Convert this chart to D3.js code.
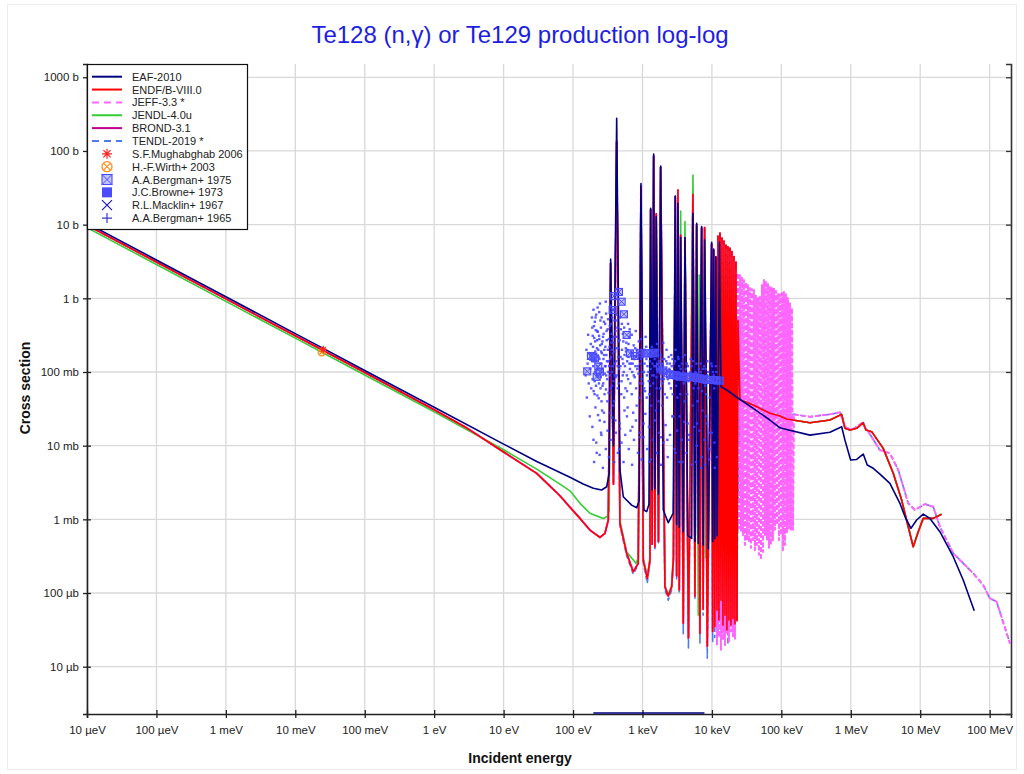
<!DOCTYPE html>
<html><head><meta charset="utf-8">
<script src="https://cdn.jsdelivr.net/npm/d3@7"></script>
<style>body{margin:0;background:#fff}svg{display:block}text{font-family:"Liberation Sans",Arial,sans-serif}</style>
</head><body><svg id="c" width="1024" height="774"></svg>
<script>
// ---------------- DATA (energy in eV, cross section in barns) ----------------
const chartTitle = "Te128 (n,\u03b3) or Te129 production log-log";
const xTickVals = [1e-5,1e-4,1e-3,1e-2,1e-1,1,10,100,1e3,1e4,1e5,1e6,1e7,1e8];
const xTickLabels = ["10 \u00b5eV","100 \u00b5eV","1 meV","10 meV","100 meV","1 eV","10 eV","100 eV","1 keV","10 keV","100 keV","1 MeV","10 MeV","100 MeV"];
const yTickVals = [1e-5,1e-4,1e-3,1e-2,1e-1,1,10,100,1000];
const yTickLabels = ["10 \u00b5b","100 \u00b5b","1 mb","10 mb","100 mb","1 b","10 b","100 b","1000 b"];

const eafThermal = [[1e-5,10.5],[1e-4,3.32],[1e-3,1.05],[1e-2,0.332],[0.0253,0.209],[0.1,0.105],[1,0.0332],[10,0.0105],[30,0.0061],[90.3,0.00372],[140,0.00302],[196,0.00264],[258,0.0025],[305,0.00277],[332,0.0042]];
const eafResolved = [[348,3.4],[382,0.01],[425,277],[474,0.0047],[529,0.00203],[699,0.00156],[825,0.00144],[899,0.0018],[951,36],[1050,0.00134],[1149,0.00127],[1240,0.0016],[1312,16.7],[1378,0.0025],[1449,91],[1512,0.0026],[1578,12.8],[1699,0.0022],[1827,62.5],[1992,0.00134],[2351,0.0009],[2775,0.00121],[2966,24.5],[3106,0.00085],[3243,19.5],[3386,0.00078],[3548,6.7],[3868,0.00068],[4091,6.7],[4500,0.0006],[5108,0.00055],[5335,14.3],[5700,0.0005],[6030,10.4],[6359,0.00047],[7115,9.4],[7477,0.00045],[7856,6.2],[8857,0.0004],[9910,5.75],[10250,0.0005],[10600,4.67],[10990,0.00055],[11400,3.67],[11900,0.0006],[12840,5.8]];
const eafHigh = [[13500,0.063],[16300,0.057],[23950,0.044],[39400,0.032],[68500,0.0223],[95400,0.0175],[119200,0.0166],[258000,0.0139],[501000,0.0152],[739000,0.0181],[824000,0.0119],[995000,0.0064],[1215000,0.0065],[1512000,0.0077],[1726000,0.00546],[2106000,0.00493],[2630000,0.00412],[3660000,0.00308],[5100000,0.00165],[6030000,0.00109],[7350000,0.000755],[8880000,0.00098],[11050000,0.00118],[13800000,0.00103],[19200000,0.00068],[29900000,0.000311],[41600000,0.00015],[60000000,0.0000575]];
const eafZeroRangeE = [196, 7800];

const endfThermal = [[1e-5,9.83],[1e-4,3.11],[1e-3,0.983],[1e-2,0.311],[0.0253,0.1955],[0.1,0.0983],[1,0.0307],[3,0.0172],[10,0.0082],[30,0.0042],[64.8,0.00209],[90.3,0.00146],[126,0.00103],[175,0.000716],[244,0.00057],[288,0.000645],[322,0.00098]];
const endfResolved = [[348,3.0],[382,0.003],[425,134],[474,0.000883],[592,0.000346],[737,0.000195],[869,0.000253],[951,33],[1026,0.00028],[1172,0.000158],[1282,0.00028],[1312,16],[1378,0.00046],[1449,85],[1512,0.00042],[1578,14],[1699,0.0005],[1827,60],[2107,0.000122],[2351,0.000091],[2632,0.000122],[2793,0.0003],[2966,24],[3106,0.00017],[3243,29.5],[3386,0.00011],[3548,7.2],[3868,0.000039],[4091,6.7],[4594,0.0000245],[5335,25.8],[5700,0.00009],[6030,10],[6725,0.0000285],[7115,9.0],[7477,0.00006],[7856,9.1],[8570,0.000019],[9910,5.5],[10250,0.00003],[10600,4.5],[10990,0.000035],[11434,3.6]];
const endfUnresolved = [[11819,0.0000586],[12217,7.0],[12630,0.0000429],[13055,7.7],[13495,0.00008],[13951,6.6],[14420,0.0000367],[14907,6.0],[15409,0.00005],[15929,5.3],[16466,0.0000314],[17021,5.0],[17595,0.000043],[18188,4.8],[18801,0.0000367],[19435,4.3],[20091,0.000045],[20768,3.7],[21468,0.000038],[22192,3.1],[22940,0.000042],[23714,0.5]];
const endfHigh = [[25340,0.042],[39400,0.0356],[68500,0.0275],[95400,0.0252],[119200,0.023],[258000,0.0205],[501000,0.0223],[739000,0.0266],[824000,0.0172],[973000,0.0163],[1215000,0.0172],[1512000,0.0205],[1652000,0.0163],[2000000,0.0155],[2930000,0.0092],[4090000,0.00422],[5400000,0.00183],[6720000,0.000795],[7930000,0.000425],[9370000,0.00068],[11050000,0.00103],[15400000,0.00103],[20300000,0.00117]];

const jendlThermal = [[1e-5,9.1],[1e-4,2.88],[1e-3,0.91],[1e-2,0.288],[0.0253,0.181],[0.1,0.091],[1,0.0288],[10,0.0088],[30,0.0048],[64.8,0.003],[90.3,0.00244],[126,0.00165],[175,0.00121],[272,0.00103],[311,0.00109],[332,0.00134]];
const jendlResolved = [[348,3.0],[382,0.004],[425,130],[474,0.00095],[592,0.00036],[805,0.000253],[869,0.0003],[951,33],[1026,0.0003],[1172,0.00017],[1282,0.0003],[1312,16],[1378,0.00048],[1449,85],[1512,0.00044],[1578,13],[1699,0.00052],[1827,60],[2107,0.000125],[2351,0.000095],[2632,0.000125],[2793,0.0003],[2966,24],[3106,0.00018],[3243,29],[3386,0.00012],[3548,15.3],[3868,0.00005],[4091,11],[4594,0.000041],[5335,47],[5700,0.0001],[6030,10],[6359,0.00005],[6573,2.07],[6725,0.00004],[7115,9],[7477,0.00007],[7856,9],[8100,0.0003],[8400,0.092],[10000,0.085],[13000,0.07]];

const jeffUnresolved = [[11819,0.00002],[12217,6],[12630,0.000025],[13055,6.5],[13495,0.000017],[13951,5.8],[14420,0.000023],[14907,5.2],[15409,0.0000196],[15929,4.8],[16466,0.000028],[17021,4.5],[17595,0.000022],[18188,4.2],[18801,0.00003],[19435,3.8],[20091,0.000026],[20768,3.2],[21468,0.000024],[22192,2.5],
[22940,0.00089],[23714,2.21],[24513,0.00075],[25340,2.07],[26194,0.0007],[27077,1.9],[27990,0.00061],[28934,1.77],[29910,0.00045],[30918,1.66],[31961,0.00052],[33038,1.52],[34152,0.00049],[35304,1.38],[36494,0.00041],[37725,1.34],[38997,0.00052],[40312,1.3],[41671,0.00038],[43076,1.11],[44529,0.00045],[46030,1.01],[47582,0.00033],[49186,1.05],[50845,0.00028],[52559,1.52],[54331,0.00036],[56163,1.77],[58057,0.00061],[60014,1.72],[62038,0.00052],[64130,1.61],[66292,0.00041],[68527,1.47],[70838,0.00045],[73226,1.38],[75695,0.00052],[78247,1.38],[80885,0.00072],[83613,1.26],[86432,0.00084],[89346,1.18],[92358,0.00052],[95472,1.14],[98691,0.00061],[102000,1.18],[105440,0.00038],[109000,1.22],[112670,0.00045],[116470,1.14],[120400,0.00067],[124460,1.01],[128650,0.00075],[132990,0.86],[137470,0.00072],[142110,0.74],[146900,0.00072]];
const jeffTendlHigh = [[151900,0.0266],[258000,0.0247],[501000,0.0266],[698000,0.0284],[824000,0.0181],[1029000,0.0163],[1433000,0.0201],[1784000,0.0155],[2630000,0.0087],[3660000,0.00787],[4830000,0.00467],[6720000,0.00165],[8390000,0.00134],[11700000,0.00161],[15400000,0.00148],[19200000,0.000795],[29900000,0.000346],[58000000,0.000185],[80800000,0.000128],[100900000,0.0000847],[126000000,0.0000762],[196000000,0.0000207]];

const tendlResolved = [[348,3.0],[382,0.003],[425,130],[474,0.0008],[592,0.00032],[737,0.00018],[869,0.00024],[951,33],[1026,0.00026],[1172,0.000135],[1282,0.00027],[1312,16],[1378,0.00044],[1449,85],[1512,0.0004],[1578,13.5],[1699,0.00048],[1827,60],[2107,0.00011],[2351,0.00008],[2632,0.00011],[2793,0.00028],[2966,24],[3106,0.00015],[3243,29],[3386,0.0001],[3548,7],[3868,0.000028],[4091,6.5],[4594,0.000018],[5335,25],[5700,0.00008],[6030,10],[6725,0.000021],[7115,9],[7477,0.00005],[7856,9],[8570,0.000013],[9910,5.5],[10250,0.000022],[10600,4.5],[10990,0.000025],[11434,3.6],[12217,0.00003],[13055,7],[14420,0.000025],[15929,5],[17021,0.00002],[18188,4.5],[20091,0.000026],[21468,3],[23000,0.0002],[25340,0.045],[39400,0.037],[68500,0.029],[119200,0.0262]];

const mughabghab2006 = [[0.0253,0.203]];
const wirth2003 = [[0.024,0.185]];
const bergman1975 = [[160,0.102],[181,0.165],[196,0.161],[207,0.153],[219,0.086],[231,0.118],[244,0.101],[372,0.694],[388,1.07],[458,1.22],[501,0.90],[541,0.607],[592,0.318],[660,0.179],[779,0.165],[920,0.179],[1122,0.179],[1211,0.179],[1430,0.183],[1512,0.179],[1785,0.118],[2000,0.105],[2229,0.096],[2500,0.093],[2775,0.091],[3100,0.089],[3465,0.0863],[3900,0.0863],[4328,0.0863],[4800,0.085],[5385,0.0863],[6000,0.083],[6725,0.082],[7500,0.08],[8400,0.0778],[9400,0.078],[10450,0.0778],[11700,0.077],[13060,0.0762]];
const browne1973 = [[192,0.31],[195,0.12],[198,0.055],[200,0.42],[203,0.18],[205,0.075],[208,0.26],[210,0.033],[213,0.14],[215,0.6],[218,0.09],[221,0.21],[224,0.048],[227,0.35],[230,0.11],[233,0.16],[236,0.07],[239,0.28],[242,0.022],[245,0.13],[248,0.5],[251,0.085],[254,0.19],[257,0.04],[260,0.24],[263,0.1],[266,0.065],[270,0.3],[274,0.15],[278,0.028],[282,0.2],[286,0.095],[290,0.45],[294,0.12],[298,0.058],[302,0.17],[306,0.27],[310,0.08],[315,0.38],[320,0.14],[325,0.052],
[335,0.22],[340,0.09],[345,0.8],[352,0.16],[358,0.33],[365,0.065],[372,0.12],[380,0.25],[388,0.04],[395,0.5],[403,0.19],[411,0.085],[420,0.14],[430,0.3],[440,0.06],[450,0.21],[462,0.11],[475,0.017],[488,0.38],[500,0.075],[515,0.15],[530,0.26],[545,0.045],[560,0.12],[578,0.19],[595,0.09],[612,0.033],[630,0.24],[650,0.13],[670,0.07],[690,0.17],[712,0.1],[735,0.028],[760,0.15],[785,0.21],[810,0.06],[840,0.11],[870,0.18],[900,0.045],[935,0.13],[970,0.08],
[1010,0.16],[1050,0.1],[1090,0.055],[1130,0.22],[1180,0.12],[1230,0.075],[1280,0.14],[1340,0.035],[1400,0.18],[1460,0.09],[1530,0.12],[1600,0.06],[1680,0.2],[1760,0.1],[1850,0.013],[1940,0.15],[2040,0.08],[2150,0.11],[2260,0.045],[2380,0.16],[2500,0.09],[2640,0.12],[2790,0.025],
[2950,0.14],[3120,0.08],[3300,0.1],[3500,0.05],[3700,0.13],[3950,0.07],[4200,0.11],[4480,0.02],[4780,0.09],[5100,0.12],[5450,0.06],[5800,0.1],[6200,0.04],[6600,0.085],[7050,0.005],[7500,0.11],[8000,0.065],[8500,0.09],[9100,0.0065],[9700,0.08],[10400,0.1],[11200,0.07],[12000,0.085],
[152,0.09],[156,0.2],[158,0.045],[162,0.13],[165,0.32],[168,0.07],[171,0.18],[174,0.025],[177,0.11],[180,0.24],[183,0.06],[186,0.15],[189,0.4],[191,0.08],[194,0.22],[197,0.012],[199,0.14],[202,0.29],[204,0.05],[207,0.1],[209,0.19],[212,0.37],[214,0.065],[217,0.16],[219,0.008],[222,0.27],[225,0.12],[228,0.085],[231,0.2],[234,0.044],[237,0.31],[240,0.15],[243,0.095],[246,0.23],[249,0.06],[252,0.4],[255,0.13],[259,0.18],[262,0.03],[265,0.26],[268,0.11],[272,0.07],[276,0.33],[280,0.17],[284,0.05],[288,0.12],[292,0.22],[296,0.9],[300,0.09],[304,0.36],[308,0.14],[312,0.04],[317,0.2],[322,0.1],[327,0.28],[197,0.7],[211,0.55],[226,0.75],[238,0.65],[253,0.015],
[332,0.12],[338,0.42],[343,0.15],[349,0.06],[355,0.25],[361,0.1],[368,0.55],[375,0.18],[383,0.075],[391,0.3],[399,0.13],[407,0.022],[416,0.21],[425,0.09],[435,0.4],[445,0.16],[456,0.07],[468,0.27],[481,0.12],[494,0.05],[507,0.2],[522,0.33],[537,0.1],[552,0.17],[569,0.06],[586,0.25],[603,0.14],[621,0.08],[640,0.3],[660,0.11],[680,0.19],[701,0.05],[723,0.13],[747,0.23],[772,0.085],[797,0.16],[825,0.035],[855,0.12],[885,0.26],[917,0.07],[952,0.15],[985,0.1],[342,0.028],[360,0.2],[378,0.035],[398,0.09],[418,0.6],[438,0.12],[460,0.009],[483,0.16],[505,0.45],[528,0.13],[551,0.03],[575,0.21],[600,0.055],[628,0.16],[655,0.38],[685,0.13],[716,0.018],[750,0.09],[790,0.12],[830,0.2],[875,0.095],[920,0.013],[960,0.2],[365,0.28],[410,0.36],[455,0.26],[520,0.09],[610,0.2],
[1020,0.07],[1070,0.13],[1110,0.3],[1160,0.09],[1210,0.17],[1260,0.05],[1310,0.11],[1370,0.22],[1430,0.07],[1500,0.15],[1570,0.03],[1640,0.1],[1720,0.14],[1800,0.06],[1890,0.11],[1990,0.25],[2090,0.05],[2200,0.14],[2320,0.08],[2440,0.11],[2570,0.06],[2710,0.15],[2860,0.095],[3000,0.2],[3180,0.045],[3380,0.12],[1040,0.02],[1150,0.045],[1250,0.006],[1390,0.13],[1550,0.19],[1700,0.04],[1870,0.08],[2060,0.15],[2280,0.012],[2480,0.13],[2730,0.05],[2980,0.008],[1080,0.2],[1330,0.16],[1620,0.24],[1920,0.035],[2220,0.2],[2600,0.17],[3250,0.16],
[3600,0.09],[3820,0.16],[4050,0.04],[4350,0.13],[4620,0.075],[4950,0.15],[5280,0.035],[5620,0.09],[6000,0.13],[6400,0.06],[6850,0.1],[7300,0.03],[7750,0.12],[8250,0.05],[8800,0.1],[9400,0.015],[10000,0.12],[10800,0.06],[11600,0.1],[3750,0.006],[4100,0.17],[4650,0.012],[5200,0.08],[5900,0.006],[6500,0.11],[7200,0.055],[7900,0.0055],[8600,0.14],[9300,0.045],[10100,0.075],[11000,0.005],[3420,0.025],[4400,0.05],[6100,0.02],[8300,0.025],
[190,0.018],[201,0.006],[216,0.011],[229,0.026],[241,0.0075],[256,0.014],[269,0.005],[283,0.021],[297,0.009],[314,0.016],[329,0.007],[347,0.012],[369,0.024],[392,0.006],[414,0.015],[442,0.008],[470,0.02],[498,0.011],[533,0.006],[565,0.014],[598,0.025],[635,0.009],[672,0.016],[710,0.0055],[755,0.012],[805,0.022],[860,0.008],[910,0.015],[975,0.0065],[1035,0.013],[1100,0.027],[1170,0.009],[1240,0.018],[1320,0.0065],[1410,0.012],[1510,0.022],[1610,0.008],[1730,0.015],[1860,0.0055],[2000,0.011],[2150,0.019],[2310,0.007],[2490,0.014],[2690,0.025],[2900,0.009],[3150,0.016],[3400,0.006],[3680,0.012],[3980,0.021],[4300,0.008],[4700,0.014],[5100,0.0055],[5550,0.018],[6050,0.01],[6600,0.016],[7150,0.007],[7800,0.012],[8450,0.02],[9200,0.009],[10000,0.015],[10900,0.011],[11800,0.007],
[1060,0.06],[1140,0.15],[1220,0.1],[1300,0.065],[1380,0.09],[1480,0.12],[1590,0.085],[1700,0.11],[1830,0.17],[1960,0.07],[2110,0.095],[2270,0.13],[2420,0.07],[2620,0.1],[2830,0.13],[3050,0.065],[3300,0.15],[3550,0.11],[3850,0.1],[4150,0.075],[4500,0.12],[4900,0.1],[5350,0.14],[5750,0.07],[6300,0.095],[6900,0.13],[7600,0.085],[8150,0.11],[8900,0.075],[9800,0.13],[10600,0.09],[11400,0.12],
[187,0.55],[206,0.48],[223,0.36],[244,0.85],[258,0.55],[279,0.48],[299,0.62],[319,0.52],[350,0.45],[385,0.7],[423,0.5],[470,0.55],[545,0.4],[620,0.45],[700,0.32],[800,0.36],[950,0.28]];
const macklin1967 = [];
const bergman1965 = [];

// ---------------- DRAW ----------------
const svg = d3.select("#c");
const L = 87, R = 1011, T = 64, B = 714;
const x = d3.scaleLog().domain([1e-5, 2.03e8]).range([L, R]);
const y = d3.scaleLog().domain([2.28e-6, 1515]).range([B, T]);

svg.append("rect").attr("x",7.5).attr("y",4.5).attr("width",1009).attr("height",765).attr("fill","none").attr("stroke","#ececec");

const grid = svg.append("g").attr("stroke","#d9d9d9").attr("stroke-width",1.3);
xTickVals.forEach(v=>grid.append("line").attr("x1",x(v)).attr("x2",x(v)).attr("y1",T).attr("y2",B));
yTickVals.forEach(v=>grid.append("line").attr("x1",L).attr("x2",R).attr("y1",y(v)).attr("y2",y(v)));

svg.append("text").attr("x",520).attr("y",43).attr("text-anchor","middle").attr("font-size",24).attr("fill","#1e1ee0").text(chartTitle);
svg.append("text").attr("x",520).attr("y",763).attr("text-anchor","middle").attr("font-size",14).attr("font-weight","bold").attr("fill","#111").text("Incident energy");
svg.append("text").attr("transform","translate(30,388) rotate(-90)").attr("text-anchor","middle").attr("font-size",14).attr("font-weight","bold").attr("fill","#111").text("Cross section");

const xAxis = d3.axisBottom(x).tickValues(xTickVals).tickFormat((d,i)=>xTickLabels[i]).tickSizeOuter(0).tickSize(4).tickPadding(8);
const gx = svg.append("g").attr("transform",`translate(0,${B})`).call(xAxis);
gx.select(".domain").attr("stroke","#222").attr("stroke-width",1.6);
gx.selectAll(".tick line").attr("y1",-4).attr("y2",4).attr("stroke","#222").attr("stroke-width",1.3);
gx.selectAll(".tick text").attr("font-size",11.5).attr("fill","#222").style("font-family","'Liberation Sans',Arial,sans-serif");
const yAxis = d3.axisLeft(y).tickValues(yTickVals).tickFormat((d,i)=>yTickLabels[i]).tickSizeOuter(0).tickSize(4).tickPadding(4);
const gy = svg.append("g").attr("transform",`translate(${L},0)`).call(yAxis);
gy.select(".domain").attr("stroke","#222").attr("stroke-width",1.6);
gy.selectAll(".tick line").attr("x1",-4).attr("x2",4).attr("stroke","#222").attr("stroke-width",1.3);
gy.selectAll(".tick text").attr("font-size",11.5).attr("fill","#222").style("font-family","'Liberation Sans',Arial,sans-serif");
const yAxisR = d3.axisRight(y).tickValues(yTickVals).tickFormat("").tickSizeOuter(0).tickSize(-5);
const gyr = svg.append("g").attr("transform",`translate(${R},0)`).call(yAxisR);
gyr.select(".domain").attr("stroke","#333").attr("stroke-width",1.6);
gyr.selectAll(".tick line").attr("stroke","#333").attr("stroke-width",1.3);

svg.append("clipPath").attr("id","clip").append("rect").attr("x",L).attr("y",T).attr("width",R-L).attr("height",B-T);
const plot = svg.append("g").attr("clip-path","url(#clip)");

const series = [
  {name:"TENDL-2019 *", color:"#4f7be8", dash:"5,3", w:1.6, data: endfThermal.concat(tendlResolved, jeffTendlHigh)},
  {name:"BROND-3.1", color:"#c0008c", w:1.6, data: endfThermal.concat(endfResolved, endfUnresolved, endfHigh)},
  {name:"JENDL-4.0u", color:"#33cc33", w:1.6, data: jendlThermal.concat(jendlResolved, endfHigh)},
  {name:"JEFF-3.3 *", color:"#ff66ff", dash:"5,2", w:2, data: endfThermal.concat(endfResolved, jeffUnresolved, jeffTendlHigh)},
  {name:"ENDF/B-VIII.0", color:"#ff0000", w:1.6, data: endfThermal.concat(endfResolved, endfUnresolved, endfHigh)},
  {name:"EAF-2010", color:"#000080", w:1.6, data: eafThermal.concat(eafResolved, eafHigh)}
];
const line = d3.line().x(d=>x(d[0])).y(d=>y(d[1]));
series.forEach(s=>{
  plot.append("path").datum(s.data).attr("d",line).attr("fill","none")
    .attr("stroke",s.color).attr("stroke-width",s.w).attr("stroke-linejoin","round")
    .attr("stroke-dasharray",s.dash||null);
});
plot.append("line").attr("x1",x(eafZeroRangeE[0])).attr("x2",x(eafZeroRangeE[1]))
  .attr("y1",B-1).attr("y2",B-1).attr("stroke","#000080").attr("stroke-width",1.6);

function marker(g, kind, cx, cy, s, color){
  const h = s/2;
  if(kind==="asterisk"){
    g.append("path").attr("d",`M${cx-h},${cy}H${cx+h}M${cx},${cy-h}V${cy+h}M${cx-h*0.72},${cy-h*0.72}L${cx+h*0.72},${cy+h*0.72}M${cx-h*0.72},${cy+h*0.72}L${cx+h*0.72},${cy-h*0.72}`).attr("stroke",color).attr("stroke-width",1.2).attr("fill","none");
  } else if(kind==="circlex"){
    g.append("circle").attr("cx",cx).attr("cy",cy).attr("r",h).attr("fill","none").attr("stroke",color).attr("stroke-width",1.3);
    const k=h*0.7;
    g.append("path").attr("d",`M${cx-k},${cy-k}L${cx+k},${cy+k}M${cx-k},${cy+k}L${cx+k},${cy-k}`).attr("stroke",color).attr("stroke-width",1.2);
  } else if(kind==="squarex"){
    g.append("rect").attr("x",cx-h).attr("y",cy-h).attr("width",s).attr("height",s).attr("fill","rgba(90,90,255,0.35)").attr("stroke",color).attr("stroke-width",1.1);
    g.append("path").attr("d",`M${cx-h},${cy-h}L${cx+h},${cy+h}M${cx-h},${cy+h}L${cx+h},${cy-h}`).attr("stroke",color).attr("stroke-width",1);
  } else if(kind==="square"){
    g.append("rect").attr("x",cx-h).attr("y",cy-h).attr("width",s).attr("height",s).attr("fill",color);
  } else if(kind==="x"){
    g.append("path").attr("d",`M${cx-h},${cy-h}L${cx+h},${cy+h}M${cx-h},${cy+h}L${cx+h},${cy-h}`).attr("stroke",color).attr("stroke-width",1.2);
  } else if(kind==="plus"){
    g.append("path").attr("d",`M${cx-h},${cy}H${cx+h}M${cx},${cy-h}V${cy+h}`).attr("stroke",color).attr("stroke-width",1.2);
  }
}
const pts = plot.append("g");
browne1973.forEach(d=>pts.append("rect").attr("x",x(d[0])-1.2).attr("y",y(d[1])-1.2).attr("width",2.4).attr("height",2.4).attr("fill","#4040ff").attr("opacity",0.85));
bergman1975.forEach(d=>marker(pts,"squarex",x(d[0]),y(d[1]),7,"#4a4aff"));
macklin1967.forEach(d=>marker(pts,"x",x(d[0]),y(d[1]),7,"#1a1acc"));
bergman1965.forEach(d=>marker(pts,"plus",x(d[0]),y(d[1]),7,"#3a3acc"));
wirth2003.forEach(d=>marker(pts,"circlex",x(d[0]),y(d[1]),7,"#ff8c1a"));
mughabghab2006.forEach(d=>marker(pts,"asterisk",x(d[0]),y(d[1]),7,"#ff2020"));

const legendItems = [
  {label:"EAF-2010", kind:"line", color:"#000080"},
  {label:"ENDF/B-VIII.0", kind:"line", color:"#ff0000"},
  {label:"JEFF-3.3 *", kind:"line", color:"#ff66ff", dash:"7,5"},
  {label:"JENDL-4.0u", kind:"line", color:"#33cc33"},
  {label:"BROND-3.1", kind:"line", color:"#c0008c"},
  {label:"TENDL-2019 *", kind:"line", color:"#4f7be8", dash:"7,5"},
  {label:"S.F.Mughabghab 2006", kind:"asterisk", color:"#ff2020"},
  {label:"H.-F.Wirth+ 2003", kind:"circlex", color:"#ff8c1a"},
  {label:"A.A.Bergman+ 1975", kind:"squarex", color:"#4a4aff"},
  {label:"J.C.Browne+ 1973", kind:"square", color:"#4a4aff"},
  {label:"R.L.Macklin+ 1967", kind:"x", color:"#1a1acc"},
  {label:"A.A.Bergman+ 1965", kind:"plus", color:"#3a3acc"}
];
const lg = svg.append("g");
lg.append("rect").attr("x",L+0.5).attr("y",T+0.5).attr("width",160).attr("height",165).attr("fill","#fff").attr("stroke","#111").attr("stroke-width",1.2);
legendItems.forEach((it,i)=>{
  const cy = 76.7 + i*12.85;
  if(it.kind==="line"){
    lg.append("line").attr("x1",92).attr("x2",122).attr("y1",cy).attr("y2",cy).attr("stroke",it.color).attr("stroke-width",2).attr("stroke-dasharray",it.dash||null);
  } else {
    marker(lg,it.kind,107,cy,10,it.color);
  }
  lg.append("text").attr("x",132).attr("y",cy+4).attr("font-size",11).attr("fill","#222").text(it.label);
});
</script></body></html>
